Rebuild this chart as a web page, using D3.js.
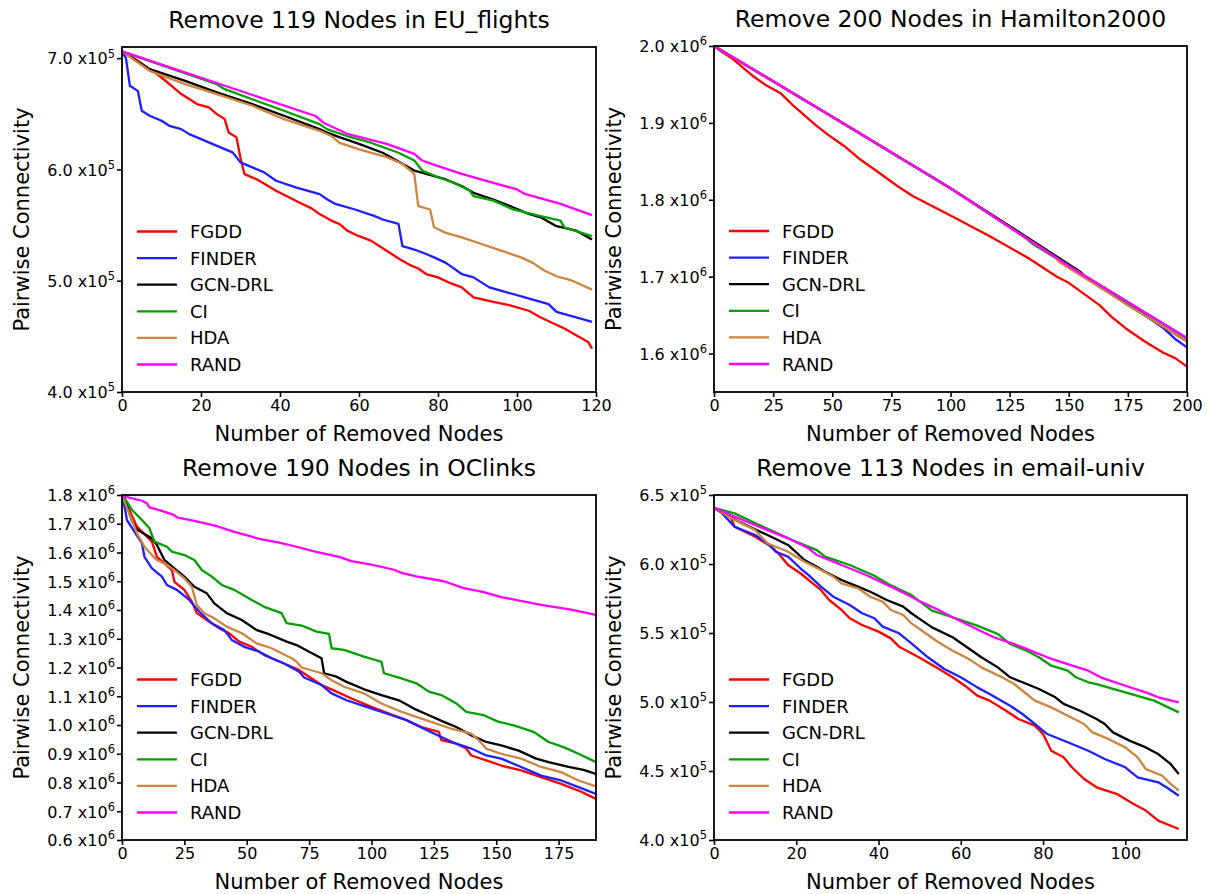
<!DOCTYPE html>
<html><head><meta charset="utf-8">
<script src="https://cdn.jsdelivr.net/npm/d3@7"></script>
<style>
body{margin:0;background:#fff}
text{font-family:"DejaVu Sans",sans-serif;fill:#000}
</style>
</head><body>
<svg id="chart" width="1210" height="894"></svg>
<script>
const methods = ["FGDD","FINDER","GCN-DRL","CI","HDA","RAND"];
const colors = ["#ff0000","#1f1fff","#000000","#00a000","#cd853f","#ff00ff"];

// ---- EU_flights (values in x10^5) ----
const euFGDD = [[0,7.06],[4,6.976],[7,6.901],[10,6.826],[13,6.737],[15,6.677],[19,6.587],[22,6.557],[24,6.497],[26,6.452],[27,6.332],[29,6.288],[30,6.10],[31,5.958],[34,5.913],[39,5.808],[45,5.70],[48,5.65],[50,5.60],[53,5.54],[55,5.51],[57,5.45],[60,5.40],[63,5.36],[67,5.27],[70,5.20],[73,5.14],[75,5.11],[77,5.06],[80,5.03],[83,4.98],[86,4.94],[89,4.85],[94,4.81],[98,4.78],[103,4.73],[106,4.67],[109,4.62],[112,4.57],[115,4.51],[118,4.45],[119,4.39]];
const euFINDER = [[0,7.06],[1,7.0],[2,6.751],[4,6.706],[5,6.527],[7,6.482],[10,6.437],[12,6.392],[15,6.362],[17,6.317],[19,6.288],[23,6.227],[26,6.182],[28,6.153],[30,6.063],[33,6.018],[36,5.973],[39,5.898],[44,5.838],[50,5.778],[52,5.73],[54,5.69],[59,5.64],[64,5.58],[66,5.55],[70,5.51],[71,5.31],[74,5.28],[77,5.24],[79,5.21],[82,5.16],[86,5.06],[89,5.03],[93,4.94],[97,4.90],[102,4.85],[108,4.79],[110,4.72],[115,4.67],[119,4.63]];
const euGCN = [[0,7.06],[7,6.901],[16,6.796],[24,6.692],[33,6.587],[41,6.482],[50,6.362],[52,6.33],[55,6.29],[60,6.23],[66,6.15],[71,6.05],[74,5.99],[77,5.96],[82,5.91],[86,5.85],[89,5.79],[94,5.73],[99,5.66],[103,5.60],[106,5.57],[110,5.49],[115,5.45],[119,5.37]];
const euCI = [[0,7.06],[24,6.766],[26,6.721],[34,6.617],[41,6.527],[50,6.407],[52,6.36],[57,6.30],[63,6.24],[70,6.15],[74,6.08],[76,5.99],[80,5.93],[84,5.88],[88,5.81],[89,5.76],[94,5.72],[99,5.64],[106,5.58],[111,5.54],[112,5.48],[119,5.40]];
const euHDA = [[0,7.06],[7,6.886],[16,6.766],[24,6.677],[33,6.572],[41,6.452],[50,6.347],[53,6.30],[55,6.24],[60,6.18],[67,6.11],[71,6.05],[74,5.96],[75,5.67],[78,5.64],[79,5.48],[82,5.43],[86,5.39],[91,5.33],[96,5.27],[101,5.21],[104,5.16],[107,5.09],[110,5.04],[114,5.00],[119,4.92]];
const euRAND = [[0,7.06],[49,6.48],[51,6.42],[57,6.32],[67,6.23],[74,6.14],[76,6.08],[80,6.03],[86,5.96],[94,5.88],[100,5.82],[102,5.78],[111,5.69],[119,5.59]];

// ---- Hamilton2000 (values in x10^6) ----
const haFGDD = [[0,2.0],[3,1.993],[8,1.983],[16,1.962],[22,1.949],[28,1.939],[34,1.921],[43,1.897],[48,1.885],[55,1.870],[62,1.852],[68,1.839],[78,1.817],[84,1.805],[101,1.778],[117,1.752],[133,1.724],[145,1.700],[150,1.692],[163,1.663],[168,1.648],[174,1.633],[182,1.616],[190,1.601],[195,1.594],[200,1.583]];
const haFINDER = [[0,2.0],[50,1.908],[100,1.815],[150,1.714],[179,1.657],[190,1.633],[195,1.619],[200,1.608]];
const haGCN = [[0,2.0],[50,1.908],[100,1.815],[133,1.750],[155,1.706],[157,1.700],[175,1.663],[200,1.616]];
const haCI = [[0,2.0],[50,1.908],[100,1.815],[131,1.752],[135,1.742],[150,1.714],[200,1.620]];
const haHDA = [[0,2.0],[50,1.908],[100,1.815],[144,1.726],[146,1.719],[175,1.663],[200,1.616]];
const haRAND = [[0,2.0],[50,1.908],[100,1.815],[150,1.714],[200,1.620]];

// ---- OClinks (values in x10^6) ----
const ocFGDD = [[0,1.797],[1,1.785],[6,1.690],[12,1.638],[14,1.585],[17,1.562],[20,1.539],[21,1.498],[25,1.470],[28,1.429],[30,1.389],[35,1.359],[39,1.336],[43,1.319],[47,1.290],[52,1.272],[57,1.243],[65,1.214],[71,1.191],[75,1.168],[80,1.139],[86,1.116],[92,1.092],[100,1.063],[107,1.040],[114,1.017],[120,0.993],[127,0.976],[128,0.947],[134,0.935],[138,0.918],[140,0.894],[146,0.877],[152,0.859],[160,0.842],[168,0.819],[176,0.795],[183,0.772],[190,0.743]];
const ocFINDER = [[0,1.797],[1,1.760],[2,1.713],[8,1.632],[9,1.585],[12,1.545],[16,1.516],[18,1.487],[22,1.470],[27,1.435],[31,1.394],[36,1.354],[41,1.330],[44,1.296],[49,1.272],[55,1.255],[60,1.232],[65,1.214],[71,1.185],[73,1.165],[80,1.139],[84,1.110],[90,1.086],[98,1.063],[106,1.040],[114,1.017],[121,0.987],[128,0.958],[134,0.935],[140,0.918],[146,0.894],[152,0.883],[160,0.854],[168,0.824],[176,0.807],[183,0.784],[190,0.760]];
const ocGCN = [[0,1.797],[2,1.760],[4,1.710],[6,1.680],[12,1.649],[14,1.626],[17,1.574],[21,1.545],[25,1.516],[29,1.481],[34,1.458],[37,1.423],[42,1.389],[48,1.365],[54,1.330],[58,1.319],[66,1.290],[70,1.278],[75,1.255],[80,1.232],[81,1.180],[86,1.168],[90,1.150],[98,1.121],[104,1.104],[111,1.086],[117,1.057],[123,1.034],[129,1.011],[134,0.993],[140,0.964],[146,0.941],[152,0.929],[159,0.911],[166,0.883],[171,0.871],[179,0.854],[185,0.844],[190,0.830]];
const ocCI = [[0,1.797],[1,1.790],[4,1.748],[8,1.713],[11,1.684],[13,1.638],[18,1.620],[20,1.603],[25,1.591],[29,1.574],[32,1.539],[36,1.516],[40,1.487],[45,1.470],[52,1.435],[57,1.411],[64,1.389],[66,1.354],[72,1.346],[78,1.325],[83,1.317],[84,1.267],[89,1.261],[97,1.238],[104,1.220],[105,1.180],[112,1.162],[118,1.145],[123,1.116],[128,1.104],[134,1.075],[138,1.046],[145,1.034],[151,1.011],[157,0.999],[165,0.976],[171,0.941],[177,0.923],[183,0.900],[190,0.871]];
const ocHDA = [[0,1.797],[4,1.713],[6,1.667],[9,1.620],[12,1.591],[14,1.574],[17,1.562],[21,1.539],[25,1.510],[28,1.481],[30,1.417],[33,1.389],[37,1.371],[42,1.342],[48,1.319],[54,1.284],[60,1.267],[68,1.232],[70,1.220],[72,1.200],[80,1.180],[84,1.156],[89,1.133],[97,1.110],[104,1.075],[112,1.046],[120,1.022],[126,1.005],[132,0.987],[140,0.970],[143,0.947],[146,0.918],[152,0.900],[160,0.883],[168,0.854],[176,0.836],[183,0.807],[190,0.786]];
const ocRAND = [[0,1.797],[8,1.780],[10,1.771],[11,1.757],[16,1.745],[21,1.730],[22,1.722],[28,1.712],[33,1.702],[38,1.692],[45,1.672],[52,1.655],[55,1.647],[63,1.634],[70,1.620],[77,1.604],[87,1.585],[92,1.570],[100,1.558],[109,1.540],[112,1.529],[118,1.517],[129,1.500],[137,1.476],[145,1.462],[152,1.445],[168,1.418],[180,1.401],[190,1.383]];

// ---- email-univ (values in x10^5) ----
const emFGDD = [[0,6.406],[4,6.343],[5,6.270],[10,6.198],[14,6.125],[16,6.065],[18,5.993],[21,5.933],[24,5.860],[26,5.812],[28,5.739],[31,5.667],[33,5.607],[36,5.558],[40,5.510],[43,5.461],[45,5.401],[48,5.353],[50,5.320],[54,5.251],[58,5.179],[61,5.118],[64,5.046],[67,5.010],[71,4.937],[74,4.877],[78,4.829],[80,4.768],[82,4.647],[85,4.599],[87,4.527],[90,4.442],[93,4.382],[98,4.333],[102,4.261],[105,4.213],[108,4.140],[113,4.080]];
const emFINDER = [[0,6.406],[2,6.367],[5,6.270],[10,6.210],[13,6.150],[15,6.089],[18,6.053],[21,5.969],[23,5.920],[26,5.836],[29,5.763],[33,5.703],[36,5.643],[39,5.607],[41,5.546],[45,5.498],[48,5.425],[52,5.324],[56,5.239],[60,5.179],[64,5.106],[67,5.058],[72,4.973],[75,4.913],[78,4.841],[81,4.768],[86,4.708],[91,4.647],[95,4.587],[100,4.527],[103,4.454],[108,4.418],[110,4.382],[113,4.321]];
const emGCN = [[0,6.406],[6,6.307],[13,6.210],[18,6.138],[22,6.029],[25,5.980],[27,5.944],[31,5.884],[35,5.836],[38,5.799],[42,5.739],[46,5.691],[48,5.643],[53,5.541],[58,5.469],[61,5.408],[65,5.324],[69,5.251],[72,5.179],[75,5.143],[79,5.094],[83,5.034],[85,4.986],[89,4.937],[93,4.877],[95,4.841],[97,4.780],[101,4.720],[105,4.671],[108,4.623],[111,4.551],[113,4.478]];
const emCI = [[0,6.406],[5,6.367],[11,6.283],[19,6.174],[25,6.101],[27,6.053],[33,5.993],[39,5.915],[43,5.845],[48,5.775],[53,5.662],[58,5.614],[64,5.553],[69,5.493],[72,5.420],[76,5.372],[79,5.324],[82,5.263],[86,5.227],[88,5.179],[91,5.143],[93,5.130],[100,5.070],[107,5.010],[113,4.925]];
const emHDA = [[0,6.406],[5,6.319],[10,6.246],[13,6.150],[18,6.089],[22,6.017],[26,5.957],[29,5.908],[31,5.860],[35,5.824],[38,5.763],[41,5.727],[43,5.667],[46,5.630],[48,5.570],[50,5.529],[54,5.444],[58,5.372],[62,5.312],[65,5.251],[70,5.179],[73,5.130],[76,5.058],[78,5.010],[82,4.961],[86,4.901],[90,4.841],[92,4.780],[95,4.744],[100,4.671],[103,4.599],[105,4.514],[109,4.466],[111,4.406],[113,4.357]];
const emRAND = [[0,6.406],[6,6.331],[12,6.258],[18,6.186],[23,6.114],[25,6.065],[31,5.993],[37,5.920],[43,5.836],[48,5.763],[50,5.730],[55,5.662],[58,5.614],[63,5.541],[68,5.469],[73,5.420],[77,5.372],[81,5.324],[86,5.275],[91,5.227],[94,5.179],[100,5.118],[105,5.070],[108,5.034],[113,4.998]];

// ---- titles and ticks ----
const titles = ["Remove 119 Nodes in EU_flights","Remove 200 Nodes in Hamilton2000","Remove 190 Nodes in OClinks","Remove 113 Nodes in email-univ"];
const xLabel = "Number of Removed Nodes";
const yLabel = "Pairwise Connectivity";
const euXTicks = [0,20,40,60,80,100,120];
const euYTicks = [4.0,5.0,6.0,7.0];
const haXTicks = [0,25,50,75,100,125,150,175,200];
const haYTicks = [1.6,1.7,1.8,1.9,2.0];
const ocXTicks = [0,25,50,75,100,125,150,175];
const ocYTicks = [0.6,0.7,0.8,0.9,1.0,1.1,1.2,1.3,1.4,1.5,1.6,1.7,1.8];
const emXTicks = [0,20,40,60,80,100];
const emYTicks = [4.0,4.5,5.0,5.5,6.0,6.5];

const panels = [
  {title:titles[0], left:122, top:47, w:474, h:345, xd:[0,120], yd:[4.0,7.1], xt:euXTicks, yt:euYTicks, exp:"5",
   data:[euFGDD,euFINDER,euGCN,euCI,euHDA,euRAND]},
  {title:titles[1], left:714, top:46, w:473, h:346, xd:[0,200], yd:[1.55,2.0], xt:haXTicks, yt:haYTicks, exp:"6",
   data:[haFGDD,haFINDER,haGCN,haCI,haHDA,haRAND]},
  {title:titles[2], left:122, top:495, w:474, h:345, xd:[0,190], yd:[0.6,1.8], xt:ocXTicks, yt:ocYTicks, exp:"6",
   data:[ocFGDD,ocFINDER,ocGCN,ocCI,ocHDA,ocRAND]},
  {title:titles[3], left:714, top:495, w:473, h:345, xd:[0,115], yd:[4.0,6.5], xt:emXTicks, yt:emYTicks, exp:"5",
   data:[emFGDD,emFINDER,emGCN,emCI,emHDA,emRAND]}
];

const svg = d3.select("#chart");
const fmt = d3.format(".1f");

panels.forEach((p,pi) => {
  const g = svg.append("g").attr("transform",`translate(${p.left},${p.top})`);
  const x = d3.scaleLinear().domain(p.xd).range([0,p.w]);
  const y = d3.scaleLinear().domain(p.yd).range([p.h,0]);
  const clipId = "clip"+pi;
  g.append("clipPath").attr("id",clipId).append("rect").attr("x",0).attr("y",-2).attr("width",p.w).attr("height",p.h+2);

  // lines
  const line = d3.line().x(d=>x(d[0])).y(d=>y(d[1]));
  const lg = g.append("g").attr("clip-path",`url(#${clipId})`);
  p.data.forEach((s,i)=>{
    lg.append("path").datum(s).attr("d",line).attr("fill","none")
      .attr("stroke",colors[i]).attr("stroke-width",2.3).attr("stroke-linejoin","round");
  });

  // x axis
  const xa = g.append("g").attr("transform",`translate(0,${p.h})`)
    .call(d3.axisBottom(x).tickValues(p.xt).tickSize(5).tickPadding(3).tickFormat(d3.format("d")));
  xa.select(".domain").remove();
  xa.selectAll("line").attr("stroke","#000").attr("stroke-width",1.6);
  xa.selectAll("text").attr("font-size",16).attr("font-family","DejaVu Sans").attr("fill","#000");

  // y axis
  const ya = g.append("g").call(d3.axisLeft(y).tickValues(p.yt).tickSize(5).tickPadding(3).tickFormat(""));
  ya.select(".domain").remove();
  ya.selectAll("line").attr("stroke","#000").attr("stroke-width",1.6);
  ya.selectAll(".tick").each(function(d){
    const t = d3.select(this).select("text");
    t.attr("font-size",16).attr("font-family","DejaVu Sans").attr("fill","#000").attr("x",-7).attr("dy","0.36em").text(null);
    t.append("tspan").text(fmt(d)+" x10");
    t.append("tspan").attr("font-size",11.5).attr("dy","-0.6em").text(p.exp);
  });

  // frame
  g.append("rect").attr("width",p.w).attr("height",p.h).attr("fill","none").attr("stroke","#000").attr("stroke-width",1.8);

  // title
  g.append("text").attr("x",p.w/2).attr("y",-19.5).attr("text-anchor","middle").attr("font-size",23.5).text(p.title);
  // x label
  g.append("text").attr("x",p.w/2).attr("y",p.h+49).attr("text-anchor","middle").attr("font-size",21).text(xLabel);
  // y label
  g.append("text").attr("transform",`translate(${-93},${p.h/2}) rotate(-90)`).attr("text-anchor","middle").attr("font-size",21).text(yLabel);

  // legend
  const leg = g.append("g").attr("transform",`translate(15,${p.h/2+12})`);
  methods.forEach((m,i)=>{
    const yy = i*26.6;
    leg.append("line").attr("x1",0).attr("x2",40).attr("y1",yy).attr("y2",yy).attr("stroke",colors[i]).attr("stroke-width",2.3);
    leg.append("text").attr("x",53).attr("y",yy+6.5).attr("font-size",18).text(m);
  });
});
</script>
</body></html>
